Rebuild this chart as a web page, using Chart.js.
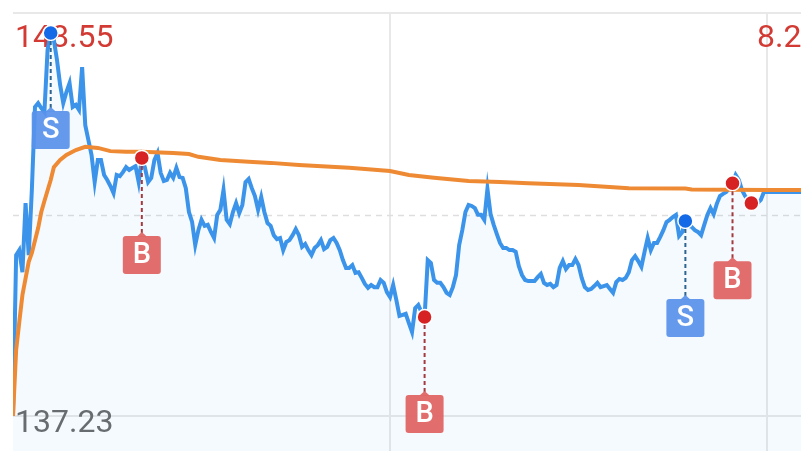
<!DOCTYPE html>
<html>
<head>
<meta charset="utf-8">
<script src="https://cdn.jsdelivr.net/npm/chart.js@4/dist/chart.umd.min.js"></script>
<style>
html, body { margin: 0; padding: 0; background: #ffffff; overflow: hidden; }
#wrap { width: 801px; height: 451px; position: relative; }
</style>
</head>
<body>
<div id="wrap"><canvas id="priceChart"></canvas></div>
<script>
/* ===============================
   DATA
================================ */
const PREV_CLOSE = 142.89;
const AXIS_HIGH = 148.55;
const AXIS_LOW = 137.23;
const RIGHT_LABEL = "8.28%";

// one price per minute, 0 = open, 240 = close, then after-hours
const prices = [
    137.23, 141.75, 141.89, 141.27, 143.21, 141.75, 143.58, 145.91, 146.02, 145.88,
    145.77, 147.51, 147.99, 147.79, 147.23, 146.53, 146.02, 146.33, 146.58, 145.91,
    145.97, 145.83, 147.03, 145.40, 144.98, 144.56, 143.80, 144.42, 144.42, 144.00,
    143.86, 143.69, 143.49, 144.00, 143.97, 144.08, 144.22, 144.14, 144.20, 144.25,
    143.80, 144.48, 144.20, 143.80, 143.92, 144.42, 144.62, 144.06, 143.83, 143.86,
    144.06, 143.92, 144.20, 143.94, 143.92, 143.63, 142.96, 142.68, 142.03, 142.45,
    142.74, 142.57, 142.60, 142.40, 142.23, 142.88, 143.02, 143.58, 142.74, 142.62,
    142.96, 143.21, 142.93, 143.16, 143.80, 143.89, 143.63, 143.41, 143.02, 143.38,
    142.96, 142.65, 142.57, 142.31, 142.20, 142.23, 141.89, 142.12, 142.17, 142.31,
    142.48, 142.31, 141.98, 142.06, 141.89, 141.75, 141.95, 142.03, 142.17, 141.92,
    141.98, 142.17, 142.23, 142.09, 141.89, 141.61, 141.39, 141.39, 141.47, 141.25,
    141.27, 141.11, 140.94, 140.83, 140.91, 140.85, 140.85, 141.05, 140.97, 140.71,
    140.57, 140.91, 140.49, 140.04, 140.07, 140.10, 139.84, 139.59, 140.26, 140.35,
    140.15, 140.01, 141.61, 141.53, 141.05, 140.97, 140.97, 140.85, 140.69, 140.63,
    140.85, 141.19, 142.03, 142.45, 142.96, 143.16, 143.13, 143.07, 142.88, 142.88,
    142.74, 143.61, 142.90, 142.60, 142.34, 142.09, 141.95, 141.95, 141.89, 141.89,
    141.84, 141.44, 141.19, 141.05, 141.02, 141.02, 141.02, 141.13, 141.22, 140.97,
    140.91, 140.94, 140.85, 140.91, 141.39, 141.58, 141.36, 141.47, 141.47, 141.64,
    141.47, 141.11, 140.85, 140.77, 140.80, 140.88, 140.97, 140.85, 140.88, 140.91,
    140.80, 140.69, 140.99, 141.08, 141.05, 141.11, 141.27, 141.61, 141.72, 141.58,
    141.42, 141.84, 142.23, 141.89, 142.09, 142.09, 142.26, 142.45, 142.68, 142.74,
    142.82, 142.88, 142.29, 142.40, 142.71, 142.57, 142.54, 142.45, 142.40, 142.31,
    142.60, 142.88, 143.07, 142.90, 143.19, 143.41, 143.47, 143.52, 143.63, 143.77,
    144.00, 143.86, 143.58, 143.41, 143.30, 143.21, 143.21, 143.21, 143.30, 143.52,
    143.52, 143.52, 143.52, 143.52, 143.52, 143.52, 143.52, 143.52, 143.52, 143.52,
    143.52, 143.52
];

// average price line, read at these minutes
const avgMinutes = [0, 1, 2, 3, 5, 6, 8, 9, 10, 12, 13, 15, 17, 20, 23, 27, 31, 36, 41, 51,
    56, 59, 66, 75, 82, 91, 107, 120, 126, 134, 145, 155, 164, 180, 196, 214, 216, 240, 251];
const avgPrices = [137.23, 139.08, 139.87, 140.63, 141.56, 141.81, 142.51, 142.96, 143.27, 143.86,
    144.22, 144.42, 144.56, 144.70, 144.79, 144.76, 144.67, 144.65, 144.65, 144.62,
    144.59, 144.51, 144.42, 144.37, 144.34, 144.28, 144.20, 144.11, 144.00, 143.92,
    143.83, 143.80, 143.77, 143.72, 143.63, 143.62, 143.59, 143.58, 143.58];

// buy / sell marks
const tradeMinutes = [12, 41, 131, 214, 229];
const tradeSides = ["S", "B", "B", "S", "B"];
const lastDotMinute = 235;

const gridMinutes = [120, 240];

/* ===============================
   COLORS
================================ */
const BLUE = "#3b94ea";
const ORANGE = "#ef8a34";
const SELL_DOT = "#1469e6";
const BUY_DOT = "#d62222";

/* ===============================
   PLUGINS
================================ */
const backdropPlugin = {
    id: "backdrop",
    beforeDatasetsDraw(chart) {
        const { ctx, chartArea, scales } = chart;
        const xs = scales.x, ys = scales.y;
        ctx.save();

        // horizontal grid
        ctx.strokeStyle = "#e8e8e8";
        ctx.lineWidth = 2;
        [AXIS_HIGH, AXIS_LOW].forEach(v => {
            const y = Math.round(ys.getPixelForValue(v));
            ctx.beginPath();
            ctx.moveTo(chartArea.left, y);
            ctx.lineTo(chartArea.right, y);
            ctx.stroke();
        });

        // vertical grid
        gridMinutes.forEach(m => {
            const x = Math.round(xs.getPixelForValue(m));
            ctx.beginPath();
            ctx.moveTo(x, chartArea.top);
            ctx.lineTo(x, chartArea.bottom);
            ctx.stroke();
        });

        // previous close, dashed
        ctx.strokeStyle = "#dedede";
        ctx.lineWidth = 1.5;
        ctx.setLineDash([6, 5]);
        const yc = Math.round(ys.getPixelForValue(PREV_CLOSE)) + 0.5;
        ctx.beginPath();
        ctx.moveTo(chartArea.left, yc);
        ctx.lineTo(chartArea.right, yc);
        ctx.stroke();
        ctx.setLineDash([]);

        // labels
        ctx.font = "32px Roboto";
        ctx.textBaseline = "alphabetic";
        ctx.textAlign = "left";
        const yTop = ys.getPixelForValue(AXIS_HIGH);
        const yBot = ys.getPixelForValue(AXIS_LOW);
        ctx.fillStyle = "#d23a33";
        ctx.fillText(AXIS_HIGH.toFixed(2), chartArea.left + 2, yTop + 34);
        ctx.fillText(RIGHT_LABEL, xs.getPixelForValue(240) - 10, yTop + 34);
        ctx.fillStyle = "#6a6a6a";
        ctx.fillText(AXIS_LOW.toFixed(2), chartArea.left + 2, yBot + 16);

        ctx.restore();
    }
};

function roundRect(ctx, x, y, w, h, r) {
    ctx.beginPath();
    ctx.moveTo(x + r, y);
    ctx.lineTo(x + w - r, y);
    ctx.quadraticCurveTo(x + w, y, x + w, y + r);
    ctx.lineTo(x + w, y + h - r);
    ctx.quadraticCurveTo(x + w, y + h, x + w - r, y + h);
    ctx.lineTo(x + r, y + h);
    ctx.quadraticCurveTo(x, y + h, x, y + h - r);
    ctx.lineTo(x, y + r);
    ctx.quadraticCurveTo(x, y, x + r, y);
    ctx.closePath();
}

const tradeTagPlugin = {
    id: "tradeTags",
    afterDatasetsDraw(chart) {
        const { ctx } = chart;
        const meta = chart.getDatasetMeta(0);
        ctx.save();
        meta.data.forEach((pt, i) => {
            const side = tradeSides[i];
            const x = pt.x, y = pt.y;
            const top = y + 78;
            const size = 38;

            // dashed stem
            ctx.strokeStyle = side === "S" ? "#2d6490" : "#a23a40";
            ctx.lineWidth = 2;
            ctx.setLineDash([4, 3]);
            ctx.beginPath();
            ctx.moveTo(x, y + 8);
            ctx.lineTo(x, top - 2);
            ctx.stroke();
            ctx.setLineDash([]);

            // tag box
            ctx.fillStyle = side === "S" ? "rgba(88,145,235,0.92)" : "rgba(224,98,98,0.92)";
            roundRect(ctx, x - size / 2, top, size, size, 3);
            ctx.fill();
            ctx.beginPath();
            ctx.moveTo(x - 5, top + 0.5);
            ctx.lineTo(x, top - 4);
            ctx.lineTo(x + 5, top + 0.5);
            ctx.closePath();
            ctx.fill();

            ctx.fillStyle = "#ffffff";
            ctx.font = "500 29px Roboto";
            ctx.textAlign = "center";
            ctx.textBaseline = "middle";
            ctx.fillText(side, x, top + size / 2 + 1);
        });
        ctx.restore();
    }
};

/* ===============================
   CHART
================================ */
const yMin = AXIS_LOW - (AXIS_HIGH - AXIS_LOW) * (35 / 403);

new Chart(document.getElementById("priceChart"), {
    type: "line",
    data: {
        datasets: [{
            label: "trades",
            data: tradeMinutes.map(m => ({ x: m, y: prices[m] })),
            showLine: false,
            pointRadius: 7.5,
            pointBorderWidth: 1.5,
            pointBorderColor: "#ffffff",
            pointBackgroundColor: tradeSides.map(s => s === "S" ? SELL_DOT : BUY_DOT),
            order: 0
        }, {
            label: "last",
            data: [{ x: lastDotMinute, y: prices[lastDotMinute] }],
            showLine: false,
            pointRadius: 7.5,
            pointBorderWidth: 1.5,
            pointBorderColor: "#ffffff",
            pointBackgroundColor: BUY_DOT,
            order: 0
        }, {
            label: "avg",
            data: avgMinutes.map((m, i) => ({ x: m, y: avgPrices[i] })),
            borderColor: ORANGE,
            borderWidth: 4,
            pointRadius: 0,
            fill: false,
            order: 1
        }, {
            label: "price",
            data: prices.map((p, i) => ({ x: i, y: p })),
            borderColor: BLUE,
            borderWidth: 4,
            pointRadius: 0,
            fill: "start",
            backgroundColor: "rgba(59,148,234,0.05)",
            order: 2
        }]
    },
    options: {
        responsive: true,
        maintainAspectRatio: false,
        animation: false,
        layout: { autoPadding: false, padding: { top: 13, left: 13, right: 0, bottom: 0 } },
        plugins: {
            legend: { display: false },
            tooltip: { enabled: false }
        },
        scales: {
            x: { type: "linear", display: false, min: 0, max: 250.8 },
            y: { display: false, min: yMin, max: AXIS_HIGH }
        }
    },
    plugins: [backdropPlugin, tradeTagPlugin]
});
</script>
</body>
</html>
